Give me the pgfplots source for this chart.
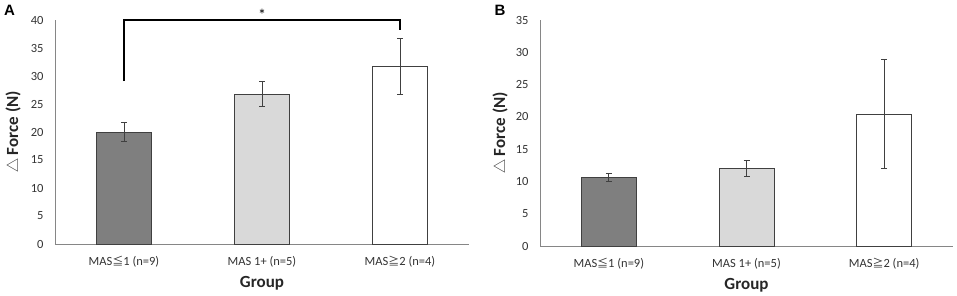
\documentclass[border=0pt]{standalone}
\usepackage{pgfplots}
\pgfplotsset{compat=1.18}
\usepackage{fontspec}
\setmainfont{Carlito}
\newfontfamily\cjk{Noto Sans CJK JP}
\newfontfamily\arialb{Liberation Sans}
\definecolor{axisgray}{HTML}{868686}
\definecolor{edgegray}{HTML}{404040}
\definecolor{bardark}{HTML}{7F7F7F}
\definecolor{barlight}{HTML}{D9D9D9}
\pgfplotsset{
 panel/.style={
  scale only axis, ybar, bar width=0.4,
  xmin=-0.5, xmax=2.5, ymin=0, enlargelimits=false,
  axis x line=bottom, axis y line=left,
  axis line style={axisgray, line width=0.8pt, -},
  major tick length=0pt,
  xtick={0,1,2},
  xticklabels={MAS{\cjk\fontsize{11}{12}\selectfont ≦}1 (n=9), MAS 1+ (n=5), MAS{\cjk\fontsize{11}{12}\selectfont ≧}2 (n=4)},
  ytick distance=5,
  tick label style={font=\fontsize{12.5}{14}\selectfont, text=black!80},
  xticklabel style={anchor=center, yshift=-18pt},
  yticklabel style={anchor=east, xshift=-8pt},
  /pgf/number format/assume math mode=true,
  xlabel={\bfseries Group},
  ylabel={{\cjk\fontsize{14}{15}\selectfont △} \bfseries Force (N)},
  every axis x label/.style={at={(axis description cs:0.5,0)}, anchor=center, yshift=-39pt,
     font=\fontsize{17}{19}\selectfont, text=black!85},
  clip=false,
 },
 eb/.style={bar shift=0pt, draw=edgegray, line width=0.8pt,
  error bars/y dir=both, error bars/y explicit,
  error bars/error bar style={edgegray, line width=0.9pt},
  error bars/error mark options={rotate=90, mark size=3pt, edgegray, line width=0.9pt}},
}
\begin{document}
\begin{tikzpicture}
\useasboundingbox (0,0) rectangle (957pt,295pt);
% Panel A
\begin{axis}[panel, at={(55pt,51pt)}, anchor=south west, width=414pt, height=224pt, ymax=40,
  every axis y label/.style={at={(axis description cs:0,0.5)}, xshift=-42pt, anchor=center, rotate=90,
     font=\fontsize{17}{19}\selectfont, text=black!85}]
\addplot[eb, fill=bardark] coordinates {(0,20.0) +- (0,1.75)};
\addplot[eb, fill=barlight] coordinates {(1,26.8) +- (0,2.25)};
\addplot[eb, fill=white] coordinates {(2,31.7) +- (0,5.0)};
\addplot[sharp plot, black, line width=1.2pt, no marks] coordinates {(0,29.1) (0,40) (2,40) (2,38.3)};
\node[font=\fontsize{16}{17}\selectfont, anchor=base, yshift=-1pt] at (axis cs:1,40) {*};
\end{axis}
% Panel B
\begin{axis}[panel, at={(540pt,49pt)}, anchor=south west, width=413pt, height=226pt, ymax=35,
  every axis y label/.style={at={(axis description cs:0,0.5)}, xshift=-40pt, anchor=center, rotate=90,
     font=\fontsize{17}{19}\selectfont, text=black!85}]
\addplot[eb, fill=bardark] coordinates {(0,10.6) +- (0,0.6)};
\addplot[eb, fill=barlight] coordinates {(1,12.0) +- (0,1.2)};
\addplot[eb, fill=white] coordinates {(2,20.4) +- (0,8.45)};
\end{axis}
\node[font=\arialb\bfseries\fontsize{15}{16}\selectfont] at (9.5pt,285pt) {A};
\node[font=\arialb\bfseries\fontsize{15}{16}\selectfont] at (500pt,285pt) {B};
\end{tikzpicture}
\end{document}
